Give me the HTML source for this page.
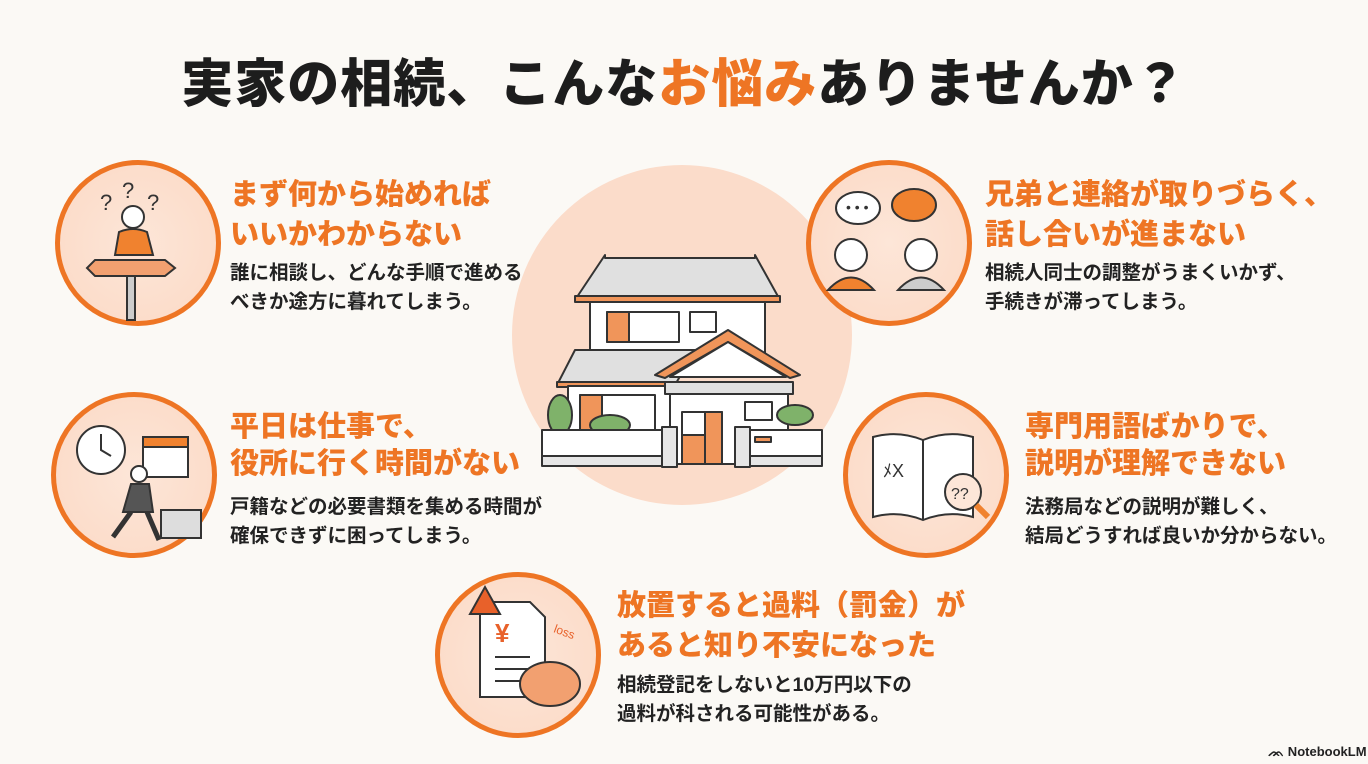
<!DOCTYPE html>
<html><head><meta charset="utf-8"><style>
html,body{margin:0;padding:0}
body{width:1368px;height:764px;background:#fbf9f5;position:relative;overflow:hidden;font-family:"Liberation Sans","Noto Sans CJK JP",sans-serif}
.t{position:absolute;white-space:nowrap}
h1{position:absolute;left:0;width:1368px;top:42px;margin:0;text-align:center;font-size:52px;font-weight:900;color:#1d1d1d;letter-spacing:1px}
h1 span{color:#ee7524}
.h{color:#ee7524;font-weight:900;font-size:29px;line-height:40px}
.b{color:#222;font-weight:700;font-size:19.5px;line-height:29px}
.c{position:absolute;border-radius:50%;border:5px solid #ee7524;background:radial-gradient(circle,#fde6d8 0%,#fbd9c5 100%);box-sizing:border-box}
</style></head><body>
<h1>実家の相続、こんな<span>お悩み</span>ありませんか？</h1>

<div class="c" style="left:512px;top:165px;width:340px;height:340px;border:none;background:#fbdcca"></div>
<svg class="t" style="left:510px;top:190px" width="340" height="300" viewBox="0 0 340 300">
<g stroke="#333" stroke-width="2" stroke-linejoin="round">
<rect x="80" y="105" width="175" height="60" fill="#fff"/>
<polygon points="95,65 95,68 245,68 245,65 270,110 65,110" fill="#e0e0e0"/>
<rect x="65" y="106" width="205" height="6" fill="#f0955a"/>
<rect x="97" y="122" width="72" height="30" fill="#fff"/><rect x="97" y="122" width="22" height="30" fill="#f0955a"/>
<rect x="180" y="122" width="26" height="20" fill="#fff"/>
<polygon points="65,160 185,160 165,195 47,195" fill="#e0e0e0"/>
<rect x="47" y="192" width="112" height="5" fill="#f0955a"/>
<rect x="58" y="196" width="110" height="45" fill="#fff"/>
<rect x="70" y="205" width="75" height="36" fill="#fff"/><rect x="70" y="205" width="22" height="36" fill="#f0955a"/>
<polygon points="145,185 218,140 290,185 280,188 218,152 155,188" fill="#f0955a"/>
<polygon points="160,187 218,152 276,187" fill="#fff"/>
<rect x="155" y="192" width="128" height="12" fill="#e0e0e0"/>
<rect x="160" y="204" width="118" height="70" fill="#fff"/>
<rect x="172" y="222" width="40" height="52" fill="#fff"/><rect x="195" y="222" width="17" height="52" fill="#f0955a"/><rect x="172" y="245" width="23" height="29" fill="#f0955a"/>
<rect x="235" y="212" width="27" height="18" fill="#fff"/>
<ellipse cx="50" cy="225" rx="12" ry="20" fill="#7fb26a"/>
<ellipse cx="100" cy="235" rx="20" ry="10" fill="#7fb26a"/>
<ellipse cx="285" cy="225" rx="18" ry="10" fill="#7fb26a"/>
<rect x="32" y="240" width="120" height="35" fill="#fff"/>
<rect x="32" y="266" width="120" height="10" fill="#e6e6e6"/>
<rect x="152" y="237" width="15" height="40" fill="#e6e6e6"/>
<rect x="225" y="237" width="15" height="40" fill="#e6e6e6"/>
<rect x="240" y="240" width="72" height="35" fill="#fff"/>
<rect x="240" y="266" width="72" height="10" fill="#e6e6e6"/>
<rect x="245" y="247" width="16" height="5" fill="#f0955a"/>
</g></svg>

<div class="c" style="left:55px;top:160px;width:166px;height:166px"></div>
<div class="c" style="left:806px;top:160px;width:166px;height:166px"></div>
<div class="c" style="left:51px;top:392px;width:166px;height:166px"></div>
<div class="c" style="left:843px;top:392px;width:166px;height:166px"></div>
<div class="c" style="left:435px;top:572px;width:166px;height:166px"></div>

<svg class="t" style="left:55px;top:160px" width="166" height="166" stroke="#333" stroke-width="2">
<text x="45" y="50" font-size="22" stroke="none" fill="#333">?</text><text x="67" y="38" font-size="22" stroke="none" fill="#333">?</text><text x="92" y="50" font-size="22" stroke="none" fill="#333">?</text>
<circle cx="78" cy="57" r="11" fill="#fff"/>
<path d="M60 95 L64 72 Q78 66 92 72 L98 95 Z" fill="#f0822f"/>
<rect x="72" y="100" width="8" height="60" fill="#ccc"/>
<polygon points="40,100 110,100 120,108 110,116 40,116 32,108" fill="#f2a070"/>
</svg>
<svg class="t" style="left:806px;top:160px" width="166" height="166" stroke="#333" stroke-width="2">
<ellipse cx="52" cy="48" rx="22" ry="16" fill="#fff"/><text x="40" y="52" font-size="14" stroke="none" fill="#333">• • •</text>
<ellipse cx="108" cy="45" rx="22" ry="16" fill="#f0822f"/>
<circle cx="45" cy="95" r="16" fill="#fff"/><path d="M22 130 Q45 105 68 130 Z" fill="#f0822f"/>
<circle cx="115" cy="95" r="16" fill="#fff"/><path d="M92 130 Q115 105 138 130 Z" fill="#ccc"/>
</svg>
<svg class="t" style="left:51px;top:392px" width="166" height="166" stroke="#333" stroke-width="2">
<circle cx="50" cy="58" r="24" fill="#fff"/><path d="M50 42 V58 L60 64" fill="none"/>
<rect x="92" y="45" width="45" height="40" fill="#fff"/><rect x="92" y="45" width="45" height="10" fill="#f0822f"/>
<circle cx="88" cy="82" r="8" fill="#fff"/><path d="M72 120 L80 92 L98 92 L102 120 Z" fill="#555"/>
<path d="M80 120 L62 145 M96 120 L108 148" stroke-width="5"/>
<rect x="110" y="118" width="40" height="28" fill="#ddd"/>
</svg>
<svg class="t" style="left:843px;top:392px" width="166" height="166" stroke="#333" stroke-width="2">
<path d="M30 45 Q55 38 80 48 Q105 38 130 45 L130 125 Q105 118 80 128 Q55 118 30 125 Z" fill="#fff"/>
<path d="M80 48 V128" />
<text x="40" y="85" font-size="18" stroke="none" fill="#333">ﾒX</text>
<circle cx="120" cy="100" r="18" fill="#fde6d8"/><text x="108" y="107" font-size="16" stroke="none" fill="#333">??</text>
<path d="M133 113 L145 125" stroke-width="6" stroke="#f0822f"/>
</svg>
<svg class="t" style="left:435px;top:572px" width="166" height="166" stroke="#333" stroke-width="2">
<path d="M45 30 L95 30 L110 45 L110 125 L45 125 Z" fill="#fff"/>
<polygon points="35,42 50,15 65,42" fill="#e8612a"/>
<text x="60" y="70" font-size="26" stroke="none" fill="#e8612a" font-weight="bold">¥</text>
<path d="M60 85 H95 M60 97 H95 M60 109 H90"/>
<text x="118" y="60" font-size="12" stroke="none" fill="#e8612a" transform="rotate(20 118 60)">loss</text>
<ellipse cx="115" cy="112" rx="30" ry="22" fill="#f2a070"/>
</svg>

<div class="t h" style="left:230px;top:175px">まず何から始めれば<br>いいかわからない</div>
<div class="t b" style="left:230px;top:259px">誰に相談し、どんな手順で進める<br>べきか途方に暮れてしまう。</div>

<div class="t h" style="left:985px;top:175px">兄弟と連絡が取りづらく、<br>話し合いが進まない</div>
<div class="t b" style="left:985px;top:259px">相続人同士の調整がうまくいかず、<br>手続きが滞ってしまう。</div>

<div class="t h" style="left:230px;top:409px;line-height:37px">平日は仕事で、<br>役所に行く時間がない</div>
<div class="t b" style="left:230px;top:493px">戸籍などの必要書類を集める時間が<br>確保できずに困ってしまう。</div>

<div class="t h" style="left:1025px;top:409px;line-height:37px">専門用語ばかりで、<br>説明が理解できない</div>
<div class="t b" style="left:1025px;top:493px">法務局などの説明が難しく、<br>結局どうすれば良いか分からない。</div>

<div class="t h" style="left:617px;top:586px">放置すると過料（罰金）が<br>あると知り不安になった</div>
<div class="t b" style="left:617px;top:671px">相続登記をしないと10万円以下の<br>過料が科される可能性がある。</div>

<div class="t" style="left:1268px;top:744px;font-size:13px;font-weight:700;color:#222">ᨏ NotebookLM</div>
</body></html>
